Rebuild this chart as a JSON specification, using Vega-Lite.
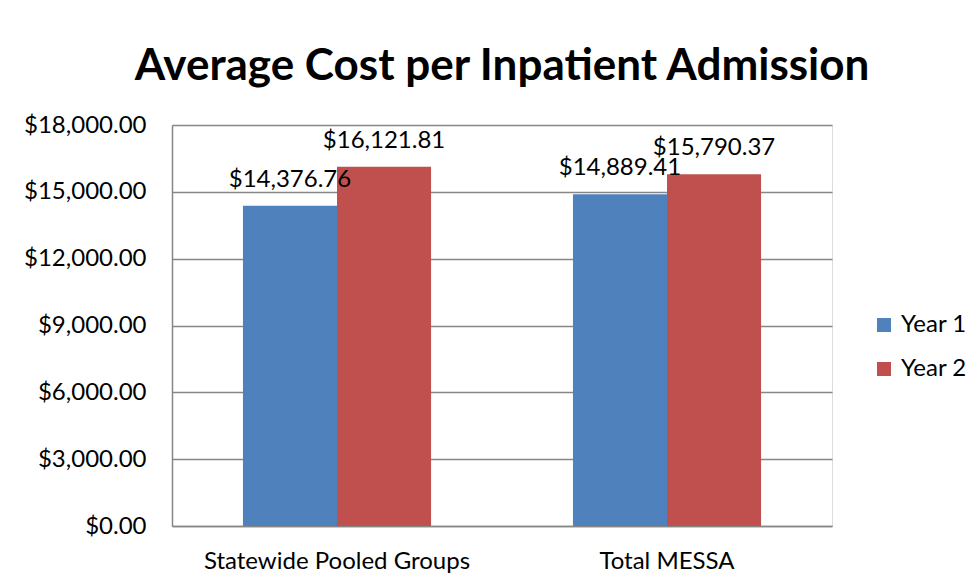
{
  "$schema": "https://vega.github.io/schema/vega-lite/v6.json",
  "width": 660,
  "height": 401,
  "autosize": {"type": "none"},
  "padding": {"left": 172, "top": 125, "right": 147, "bottom": 60},
  "background": "white",
  "title": {
    "text": "Average Cost per Inpatient Admission",
    "font": "Lato",
    "fontSize": 44,
    "fontWeight": "bold",
    "color": "black",
    "anchor": "middle",
    "baseline": "alphabetic",
    "offset": -11,
    "frame": "group"
  },
  "data": {
    "values": [
      {"group": "Statewide Pooled Groups", "year": "Year 1", "cost": 14376.76},
      {"group": "Statewide Pooled Groups", "year": "Year 2", "cost": 16121.81},
      {"group": "Total MESSA", "year": "Year 1", "cost": 14889.41},
      {"group": "Total MESSA", "year": "Year 2", "cost": 15790.37}
    ]
  },
  "encoding": {
    "x": {
      "field": "group",
      "type": "nominal",
      "sort": null,
      "scale": {"paddingInner": 0.43, "paddingOuter": 0.215},
      "axis": {
        "title": null,
        "labelAngle": 0,
        "labelLimit": 0,
        "labelFont": "Lato",
        "labelFontSize": 24,
        "labelColor": "black",
        "labelBaseline": "alphabetic",
        "labelPadding": 42,
        "ticks": false,
        "tickSize": 0,
        "domainColor": "#868686",
        "domainWidth": 1.5
      }
    },
    "xOffset": {
      "field": "year",
      "type": "nominal",
      "sort": null,
      "scale": {"paddingInner": 0, "paddingOuter": 0}
    },
    "y": {
      "field": "cost",
      "type": "quantitative",
      "scale": {"domain": [0, 18000], "nice": false},
      "axis": {
        "title": null,
        "values": [0, 3000, 6000, 9000, 12000, 15000, 18000],
        "format": "$,.2f",
        "grid": true,
        "gridColor": "#868686",
        "gridWidth": 1.5,
        "domainColor": "#868686",
        "domainWidth": 1.5,
        "ticks": false,
        "tickSize": 0,
        "labelPadding": 26,
        "labelFont": "Lato",
        "labelFontSize": 24,
        "labelColor": "black",
        "labelBaseline": "middle"
      }
    }
  },
  "layer": [
    {
      "mark": {"type": "bar"},
      "encoding": {
        "color": {
          "field": "year",
          "type": "nominal",
          "scale": {"domain": ["Year 1", "Year 2"], "range": ["#4F81BD", "#C0504D"]},
          "legend": {
            "title": null,
            "orient": "none",
            "legendX": 700,
            "legendY": 188,
            "symbolType": "square",
            "symbolSize": 196,
            "symbolStrokeWidth": 0,
            "labelFont": "Lato",
            "labelFontSize": 24,
            "labelColor": "black",
            "labelOffset": 5,
            "rowPadding": 20
          }
        }
      }
    },
    {
      "mark": {
        "type": "text",
        "dy": -19,
        "baseline": "alphabetic",
        "font": "Lato",
        "fontSize": 24,
        "color": "black"
      },
      "encoding": {
        "text": {"field": "cost", "type": "quantitative", "format": "$,.2f"}
      }
    }
  ]
}
